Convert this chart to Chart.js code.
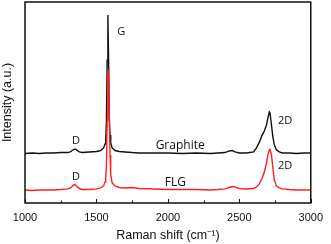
<!DOCTYPE html>
<html>
<head>
<meta charset="utf-8">
<script src="https://cdn.jsdelivr.net/npm/chart.js@4.4.1/dist/chart.umd.min.js"></script>
<style>
  html, body { margin: 0; padding: 0; background: #fff; }
  #wrap { width: 331px; height: 244px; }
</style>
</head>
<body>
<div id="wrap"><canvas id="ramanChart" width="331" height="244"></canvas></div>
<script>
// Raman shift (cm-1)
const shift = [1000, 1050, 1100, 1150, 1200, 1250, 1300, 1320, 1340, 1350, 1360, 1380, 1400, 1450, 1500,
  1530, 1550, 1560, 1565, 1570, 1575, 1580, 1585, 1590, 1595, 1600, 1610, 1630, 1660, 1700, 1750, 1800,
  1900, 2000, 2100, 2200, 2300, 2350, 2400, 2430, 2450, 2470, 2500, 2550, 2600, 2620, 2640, 2660, 2675,
  2690, 2700, 2710, 2715, 2725, 2735, 2745, 2760, 2780, 2800, 2850, 2900, 2950, 3000];

// intensity (a.u.), offset traces
const graphite = [24.6, 24.9, 24.6, 24.9, 24.9, 25.1, 25.1, 25.6, 26.6, 26.9, 26.4, 25.4, 25.1, 25.4, 25.6,
  26.1, 27.4, 29.4, 32.3, 41.3, 71.1, 93.5, 71.1, 42.3, 33.8, 29.9, 27.4, 26.1, 25.6, 25.4, 25.1, 24.9,
  24.9, 24.9, 24.6, 24.9, 24.6, 24.9, 25.1, 25.9, 26.1, 25.4, 24.9, 24.9, 25.4, 27.4, 30.3, 33.8, 35.8,
  38.8, 42.3, 45.3, 44.8, 38.8, 32.8, 28.9, 26.4, 25.4, 24.9, 24.9, 24.6, 24.9, 24.9];

const flg = [6.5, 6.2, 6.5, 6.5, 6.5, 6.7, 7.0, 7.5, 9.0, 9.2, 8.5, 7.2, 6.7, 6.7, 7.0,
  7.5, 8.5, 10.4, 12.4, 18.9, 41.3, 63.7, 65.2, 43.8, 23.9, 13.9, 10.0, 8.5, 7.7, 7.5, 7.7, 7.2,
  7.0, 6.7, 6.7, 6.7, 6.5, 6.7, 7.0, 7.7, 8.2, 8.0, 7.2, 7.0, 7.2, 8.0, 9.5, 12.4, 15.4,
  19.9, 23.9, 26.4, 26.6, 23.9, 17.4, 11.4, 8.5, 7.5, 7.0, 6.7, 6.5, 6.5, 6.5];

const tickLabels = [1000, 1500, 2000, 2500, 3000];

// peak annotations
const labelText = ['G', 'D', '2D', 'Graphite', 'D', '2D', 'FLG'];
const labelX = [1673, 1357, 2821, 2086, 1357, 2821, 2052];
const labelY = [85, 30.8, 40.8, 28.4, 12.9, 18.4, 10];

function toPoints(ys) {
    return shift.map(function(x, i) { return { x: x, y: ys[i] }; });
}

// 글자, 테두리, 안쪽 눈금
const extras = {
    id: 'extras',
    afterDatasetsDraw: function(chart) {
        const ctx = chart.ctx;
        const a = chart.chartArea;
        const xs = chart.scales.x;
        const ys = chart.scales.y;
        ctx.save();
        ctx.fillStyle = '#111';
        ctx.textAlign = 'center';
        ctx.textBaseline = 'middle';
        labelText.forEach(function(t, i) {
            ctx.font = (t.length > 2 ? '12px' : '11px') + ' "Open Sans"';
            ctx.fillText(t, xs.getPixelForValue(labelX[i]), ys.getPixelForValue(labelY[i]));
        });
        ctx.strokeStyle = '#111';
        ctx.lineWidth = 1.5;
        ctx.strokeRect(a.left, a.top, a.right - a.left, a.bottom - a.top);
        ctx.lineWidth = 1;
        xs.ticks.forEach(function(tk) {
            const px = Math.round(xs.getPixelForValue(tk.value)) + 0.5;
            const len = tk.value % 500 === 0 ? 4 : 2.5;
            ctx.beginPath();
            ctx.moveTo(px, a.bottom);
            ctx.lineTo(px, a.bottom - len);
            ctx.stroke();
        });
        ctx.restore();
    }
};

const ctx = document.getElementById('ramanChart').getContext('2d');
const ramanChart = new Chart(ctx, {
    type: 'line',
    data: {
        datasets: [{
            label: 'FLG',
            data: toPoints(flg),
            borderColor: '#ff1f1f',
            borderWidth: 1.4,
            pointRadius: 0,
            tension: 0
        }, {
            label: 'Graphite',
            data: toPoints(graphite),
            borderColor: '#111111',
            borderWidth: 1.4,
            pointRadius: 0,
            tension: 0
        }]
    },
    options: {
        responsive: false,
        animation: false,
        layout: { padding: { top: 2, right: 15, left: 0, bottom: 0 } },
        plugins: { legend: { display: false }, tooltip: { enabled: false } },
        scales: {
            x: {
                type: 'linear',
                min: 1000,
                max: 3000,
                grid: { display: false, drawTicks: false },
                border: { display: false },
                ticks: {
                    stepSize: 250,
                    autoSkip: false,
                    maxRotation: 0,
                    padding: 8,
                    color: '#111',
                    font: { family: 'Liberation Sans', size: 11 },
                    callback: function(v) { return tickLabels.indexOf(v) >= 0 ? String(v) : ''; }
                },
                title: {
                    display: true,
                    text: 'Raman shift (cm⁻¹)',
                    color: '#111',
                    font: { family: 'Liberation Sans', size: 12.5 },
                    padding: { top: 0, bottom: 1 }
                },
                afterFit: function(s) { s.height = 41; }
            },
            y: {
                min: 0,
                max: 100,
                grid: { display: false, drawTicks: false },
                border: { display: false },
                ticks: { display: false },
                title: {
                    display: true,
                    text: 'Intensity (a.u.)',
                    color: '#111',
                    font: { family: 'Liberation Sans', size: 12.5 },
                    padding: 0
                },
                afterFit: function(s) { s.width = 25; }
            }
        }
    },
    plugins: [extras]
});
</script>
</body>
</html>
